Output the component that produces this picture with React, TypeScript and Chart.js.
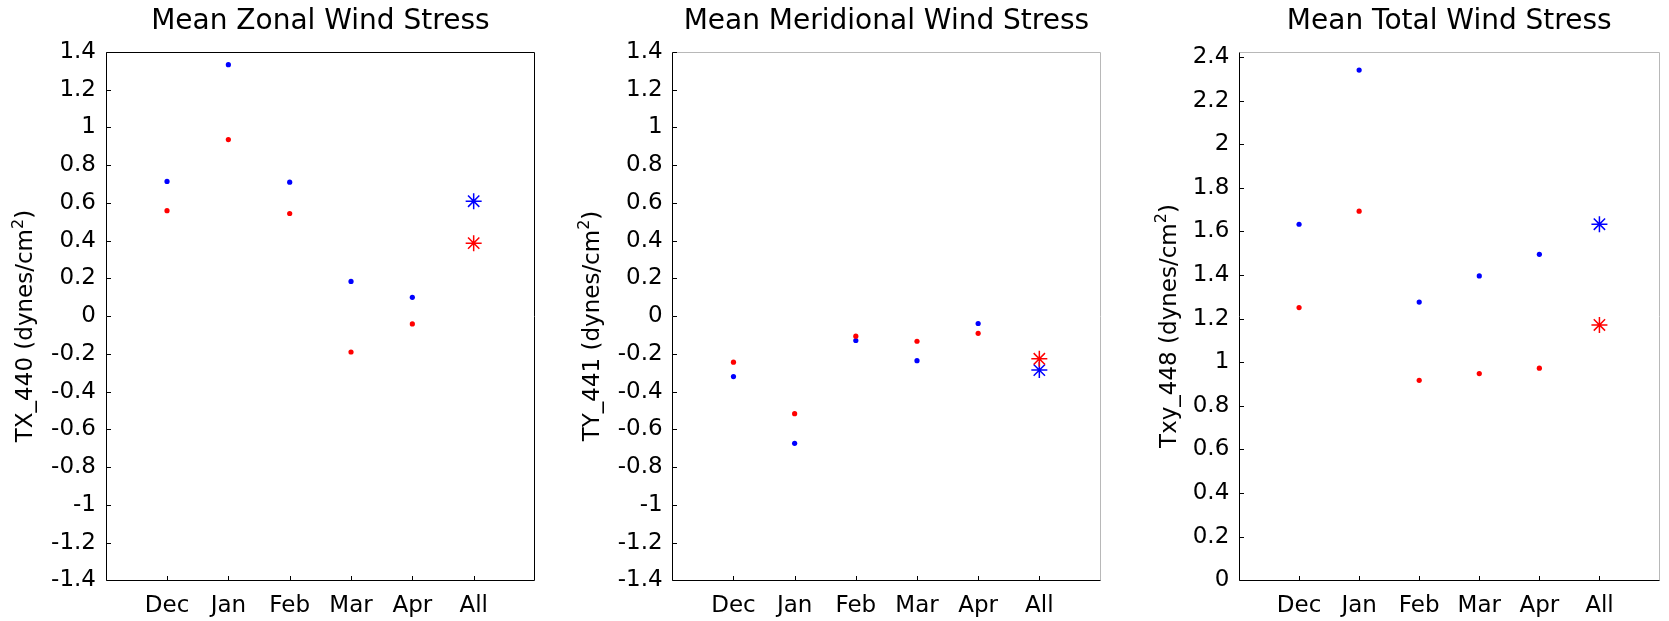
import React, { useEffect, useRef } from "react";
import { Chart, registerables } from "chart.js";

Chart.register(...registerables);

// ---------- data ----------
const months = ["Dec", "Jan", "Feb", "Mar", "Apr"];
const allLabel = "All";
const categories = [...months, allLabel];

const zonalBlue = [0.714, 1.333, 0.71, 0.184, 0.1];
const zonalRed = [0.559, 0.936, 0.544, -0.19, -0.041];
const zonalBlueAll = 0.609;
const zonalRedAll = 0.387;

const meridBlue = [-0.32, -0.674, -0.129, -0.236, -0.039];
const meridRed = [-0.244, -0.517, -0.106, -0.133, -0.091];
const meridBlueAll = -0.286;
const meridRedAll = -0.226;

const totalBlue = [1.633, 2.34, 1.276, 1.396, 1.495];
const totalRed = [1.251, 1.693, 0.917, 0.948, 0.973];
const totalBlueAll = 1.633;
const totalRedAll = 1.171;

const symTicks = [-1.4, -1.2, -1, -0.8, -0.6, -0.4, -0.2, 0, 0.2, 0.4, 0.6, 0.8, 1, 1.2, 1.4];
const totalTicks = [0, 0.2, 0.4, 0.6, 0.8, 1, 1.2, 1.4, 1.6, 1.8, 2, 2.2, 2.4];

const titles = ["Mean Zonal Wind Stress", "Mean Meridional Wind Stress", "Mean Total Wind Stress"];
const yLabels = ["TX_440 (dynes/cm²)", "TY_441 (dynes/cm²)", "Txy_448 (dynes/cm²)"];

const BLUE = "#0000ff";
const RED = "#ff0000";
const FONT = "'DejaVu Sans', sans-serif";
const TICK_SIZE = 23;
const TITLE_SIZE = 28;

type PanelCfg = {
  title: string;
  yLabel: string;
  blue: number[];
  red: number[];
  blueAll: number;
  redAll: number;
  yMin: number;
  yMax: number;
  yTicks: number[];
  canvasLeft: number;
  canvasWidth: number;
  axisWidth: number;
  padRight: number;
  labelBaseX: number;
  edgeColor: string;
};

const panels: PanelCfg[] = [
  {
    title: titles[0], yLabel: yLabels[0], blue: zonalBlue, red: zonalRed,
    blueAll: zonalBlueAll, redAll: zonalRedAll, yMin: -1.4, yMax: 1.4, yTicks: symTicks,
    canvasLeft: 0, canvasWidth: 560, axisWidth: 105.7, padRight: 25, labelBaseX: 32.3, edgeColor: "#000",
  },
  {
    title: titles[1], yLabel: yLabels[1], blue: meridBlue, red: meridRed,
    blueAll: meridBlueAll, redAll: meridRedAll, yMin: -1.4, yMax: 1.4, yTicks: symTicks,
    canvasLeft: 560, canvasWidth: 550, axisWidth: 112.3, padRight: 8.5, labelBaseX: 39, edgeColor: "#b8b8b8",
  },
  {
    title: titles[2], yLabel: yLabels[2], blue: totalBlue, red: totalRed,
    blueAll: totalBlueAll, redAll: totalRedAll, yMin: 0, yMax: 2.423, yTicks: totalTicks,
    canvasLeft: 1110, canvasWidth: 559, axisWidth: 129, padRight: 1, labelBaseX: 65.5, edgeColor: "#b8b8b8",
  },
];

const H = 621;
const CHART_BOTTOM = 580.3;
const LABEL_CENTER_Y = 326;

const framePlugin = {
  id: "frame",
  afterDraw(chart: any, _args: any, opts: any) {
    const { ctx, chartArea, scales } = chart;
    const { left, right, top, bottom } = chartArea;
    const L = Math.round(left) + 0.5;
    const R = Math.round(right) - 0.5;
    const T = Math.round(top) + 0.5;
    const B = Math.round(bottom) + 0.5;
    ctx.save();
    ctx.lineWidth = 1;
    // top & right edges
    ctx.strokeStyle = opts.edgeColor || "#000";
    ctx.beginPath();
    ctx.moveTo(L, T);
    ctx.lineTo(R, T);
    ctx.lineTo(R, B);
    ctx.stroke();
    // left & bottom axes + inward ticks
    ctx.strokeStyle = "#000";
    ctx.beginPath();
    ctx.moveTo(L, T);
    ctx.lineTo(L, B);
    ctx.lineTo(R, B);
    scales.y.ticks.forEach((t: any) => {
      const py = Math.round(scales.y.getPixelForValue(t.value)) + 0.5;
      ctx.moveTo(L, py);
      ctx.lineTo(L + 4.5, py);
    });
    scales.x.ticks.forEach((t: any) => {
      const px = Math.round(scales.x.getPixelForValue(t.value)) + 0.5;
      ctx.moveTo(px, B);
      ctx.lineTo(px, B - 4.5);
    });
    ctx.stroke();
    // y axis label with superscript
    const text: string = opts.label || "";
    const parts = text.split("²");
    const main = parts[0];
    const tail = parts.length > 1 ? parts[1] : "";
    const hasSup = parts.length > 1;
    ctx.fillStyle = "#000";
    ctx.textBaseline = "alphabetic";
    ctx.textAlign = "left";
    const mainFont = `${TICK_SIZE}px ${FONT}`;
    const supFont = `${Math.round(TICK_SIZE * 0.68)}px ${FONT}`;
    ctx.font = mainFont;
    const wMain = ctx.measureText(main).width;
    const wTail = ctx.measureText(tail).width;
    ctx.font = supFont;
    const wSup = hasSup ? ctx.measureText("2").width : 0;
    const total = wMain + wSup + wTail;
    ctx.translate(opts.baseX, LABEL_CENTER_Y);
    ctx.rotate(-Math.PI / 2);
    const sx = -total / 2;
    ctx.font = mainFont;
    ctx.fillText(main, sx, 0);
    if (hasSup) {
      ctx.font = supFont;
      ctx.fillText("2", sx + wMain, -TICK_SIZE * 0.42);
      ctx.font = mainFont;
      ctx.fillText(tail, sx + wMain + wSup, 0);
    }
    ctx.restore();
  },
};

function fmt(v: number) {
  return String(Number(v.toFixed(2)));
}

function Panel({ cfg }: { cfg: PanelCfg }) {
  const ref = useRef<HTMLCanvasElement>(null);
  useEffect(() => {
    if (!ref.current) return;
    const allX = months.length + 1;
    const chart = new Chart(ref.current, {
      type: "scatter",
      data: {
        datasets: [
          {
            data: cfg.red.map((v, i) => ({ x: i + 1, y: v })),
            backgroundColor: RED,
            borderColor: RED,
            pointRadius: 2.6,
            borderWidth: 0,
          },
          {
            data: cfg.blue.map((v, i) => ({ x: i + 1, y: v })),
            backgroundColor: BLUE,
            borderColor: BLUE,
            pointRadius: 2.6,
            borderWidth: 0,
          },
          {
            data: [{ x: allX, y: cfg.redAll }],
            pointStyle: "star",
            borderColor: RED,
            backgroundColor: RED,
            pointRadius: 8,
            pointBorderWidth: 1.5,
          },
          {
            data: [{ x: allX, y: cfg.blueAll }],
            pointStyle: "star",
            borderColor: BLUE,
            backgroundColor: BLUE,
            pointRadius: 8,
            pointBorderWidth: 1.5,
          },
        ],
      },
      options: {
        animation: false,
        responsive: false,
        devicePixelRatio: 1,
        layout: { padding: { left: 0, right: cfg.padRight, top: 0, bottom: 0 } },
        plugins: {
          legend: { display: false },
          tooltip: { enabled: false },
          title: {
            display: true,
            text: cfg.title,
            fullSize: false,
            color: "#000",
            font: { family: FONT, size: TITLE_SIZE, weight: "normal", lineHeight: 1.2 },
            padding: { top: 4.9, bottom: 13.5 },
          },
          frame: { edgeColor: cfg.edgeColor, label: cfg.yLabel, baseX: cfg.labelBaseX },
        },
        scales: {
          x: {
            type: "linear",
            min: 0,
            max: categories.length + 1,
            grid: { display: true, drawOnChartArea: false, drawTicks: false },
            border: { display: false },
            afterBuildTicks: (scale: any) => {
              scale.ticks = categories.map((_, i) => ({ value: i + 1 }));
            },
            afterFit: (scale: any) => {
              scale.height = H - CHART_BOTTOM;
            },
            ticks: {
              autoSkip: false,
              maxRotation: 0,
              padding: 12,
              color: "#000",
              font: { family: FONT, size: TICK_SIZE },
              callback: (v: any) => categories[Number(v) - 1] ?? "",
            },
          },
          y: {
            type: "linear",
            min: cfg.yMin,
            max: cfg.yMax,
            grid: { display: true, drawOnChartArea: false, drawTicks: false },
            border: { display: false },
            afterBuildTicks: (scale: any) => {
              scale.ticks = cfg.yTicks.map((v) => ({ value: v }));
            },
            afterFit: (scale: any) => {
              scale.width = cfg.axisWidth;
            },
            ticks: {
              autoSkip: false,
              padding: 9.7,
              color: "#000",
              font: { family: FONT, size: TICK_SIZE },
              callback: (v: any) => fmt(Number(v)),
            },
          },
        },
      },
      plugins: [framePlugin],
    } as any);
    return () => chart.destroy();
  }, [cfg]);
  return (
    <canvas
      ref={ref}
      width={cfg.canvasWidth}
      height={H}
      style={{ position: "absolute", left: cfg.canvasLeft, top: 0, width: cfg.canvasWidth, height: H }}
    />
  );
}

export default function App() {
  return (
    <div style={{ position: "absolute", left: 0, top: 0, width: 1669, height: H, background: "#fff" }}>
      {panels.map((p, i) => (
        <Panel key={i} cfg={p} />
      ))}
    </div>
  );
}
